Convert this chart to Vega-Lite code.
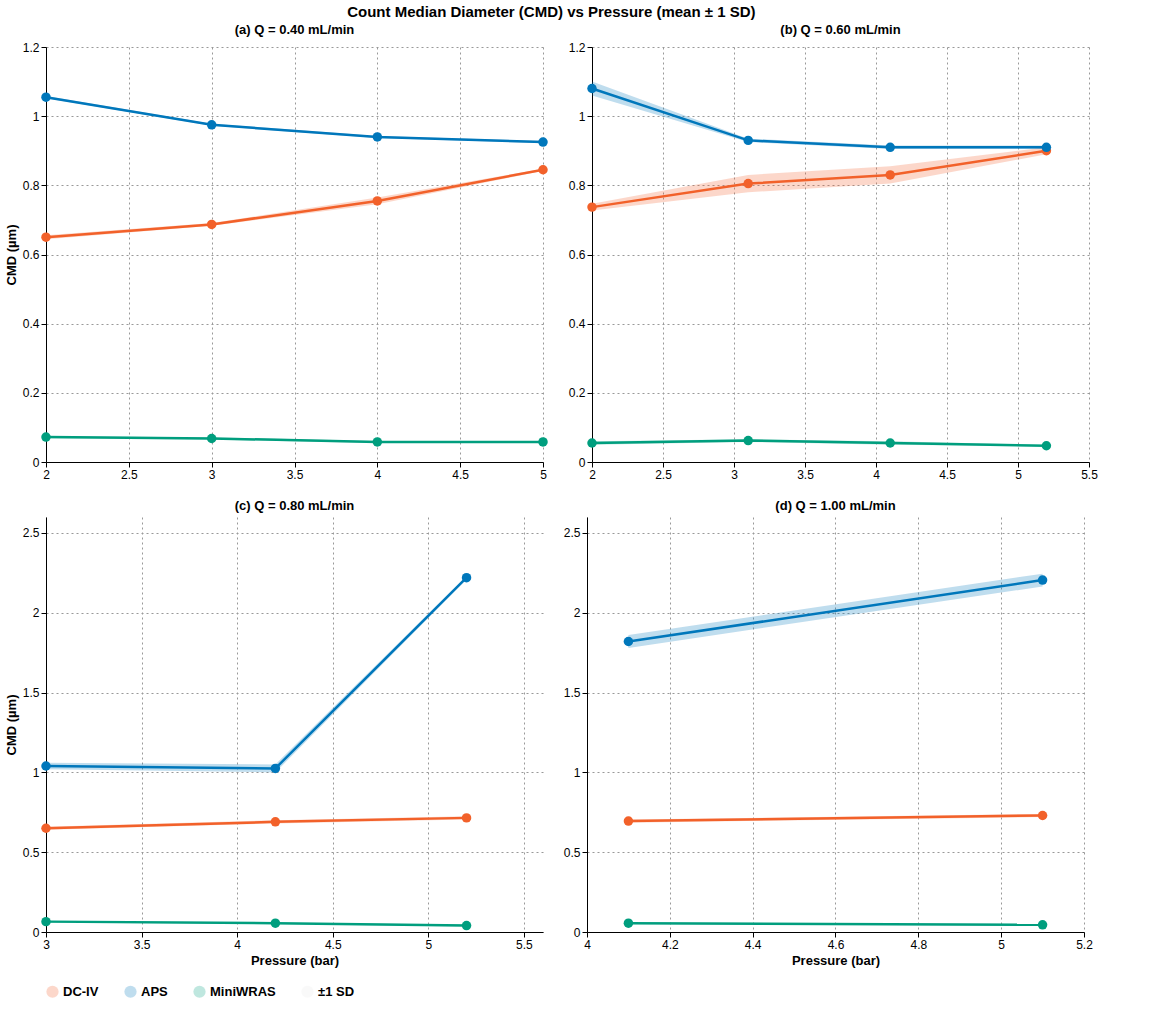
{
  "$schema": "https://vega.github.io/schema/vega-lite/v6.json",
  "title": {"text": "Count Median Diameter (CMD) vs Pressure  (mean ± 1 SD)", "fontSize": 15, "fontWeight": "bold", "font": "Liberation Sans", "anchor": "middle"},
  "config": {
    "font": "Liberation Sans",
    "view": {"stroke": null},
    "axis": {"grid": true, "gridDash": [2, 3], "gridColor": "#999", "domainColor": "#000", "tickColor": "#000", "labelColor": "#000", "labelFontSize": 12, "titleFontSize": 13, "titleFontWeight": "bold", "labelFlush": false},
    "title": {"fontSize": 13, "fontWeight": "bold"},
    "legend": {"orient": "bottom", "direction": "horizontal", "labelFontSize": 13, "labelFontWeight": "bold", "title": null, "columnPadding": 25}
  },
  "data": {"values": [
    {"panel": "a", "series": "DC-IV", "p": 2, "cmd": 0.65, "lo": 0.644, "hi": 0.656},
    {"panel": "a", "series": "DC-IV", "p": 3, "cmd": 0.687, "lo": 0.683, "hi": 0.691},
    {"panel": "a", "series": "DC-IV", "p": 4, "cmd": 0.755, "lo": 0.745, "hi": 0.765},
    {"panel": "a", "series": "DC-IV", "p": 5, "cmd": 0.845, "lo": 0.842, "hi": 0.848},
    {"panel": "a", "series": "APS", "p": 2, "cmd": 1.055, "lo": 1.052, "hi": 1.058},
    {"panel": "a", "series": "APS", "p": 3, "cmd": 0.975, "lo": 0.972, "hi": 0.978},
    {"panel": "a", "series": "APS", "p": 4, "cmd": 0.94, "lo": 0.937, "hi": 0.943},
    {"panel": "a", "series": "APS", "p": 5, "cmd": 0.925, "lo": 0.922, "hi": 0.928},
    {"panel": "a", "series": "MiniWRAS", "p": 2, "cmd": 0.072, "lo": 0.069, "hi": 0.075},
    {"panel": "a", "series": "MiniWRAS", "p": 3, "cmd": 0.068, "lo": 0.065, "hi": 0.071},
    {"panel": "a", "series": "MiniWRAS", "p": 4, "cmd": 0.058, "lo": 0.055, "hi": 0.061},
    {"panel": "a", "series": "MiniWRAS", "p": 5, "cmd": 0.058, "lo": 0.056, "hi": 0.06},
    {"panel": "b", "series": "DC-IV", "p": 2, "cmd": 0.737, "lo": 0.727, "hi": 0.747},
    {"panel": "b", "series": "DC-IV", "p": 3.1, "cmd": 0.805, "lo": 0.78, "hi": 0.83},
    {"panel": "b", "series": "DC-IV", "p": 4.1, "cmd": 0.83, "lo": 0.805, "hi": 0.855},
    {"panel": "b", "series": "DC-IV", "p": 5.2, "cmd": 0.9, "lo": 0.89, "hi": 0.91},
    {"panel": "b", "series": "APS", "p": 2, "cmd": 1.08, "lo": 1.06, "hi": 1.1},
    {"panel": "b", "series": "APS", "p": 3.1, "cmd": 0.93, "lo": 0.925, "hi": 0.935},
    {"panel": "b", "series": "APS", "p": 4.1, "cmd": 0.91, "lo": 0.905, "hi": 0.915},
    {"panel": "b", "series": "APS", "p": 5.2, "cmd": 0.91, "lo": 0.905, "hi": 0.915},
    {"panel": "b", "series": "MiniWRAS", "p": 2, "cmd": 0.055, "lo": 0.05, "hi": 0.06},
    {"panel": "b", "series": "MiniWRAS", "p": 3.1, "cmd": 0.062, "lo": 0.058, "hi": 0.066},
    {"panel": "b", "series": "MiniWRAS", "p": 4.1, "cmd": 0.055, "lo": 0.05, "hi": 0.06},
    {"panel": "b", "series": "MiniWRAS", "p": 5.2, "cmd": 0.047, "lo": 0.045, "hi": 0.049},
    {"panel": "c", "series": "DC-IV", "p": 3, "cmd": 0.65, "lo": 0.64, "hi": 0.66},
    {"panel": "c", "series": "DC-IV", "p": 4.2, "cmd": 0.69, "lo": 0.68, "hi": 0.7},
    {"panel": "c", "series": "DC-IV", "p": 5.2, "cmd": 0.715, "lo": 0.705, "hi": 0.725},
    {"panel": "c", "series": "APS", "p": 3, "cmd": 1.04, "lo": 1.02, "hi": 1.06},
    {"panel": "c", "series": "APS", "p": 4.2, "cmd": 1.025, "lo": 1.0, "hi": 1.05},
    {"panel": "c", "series": "APS", "p": 5.2, "cmd": 2.22, "lo": 2.21, "hi": 2.23},
    {"panel": "c", "series": "MiniWRAS", "p": 3, "cmd": 0.065, "lo": 0.06, "hi": 0.07},
    {"panel": "c", "series": "MiniWRAS", "p": 4.2, "cmd": 0.055, "lo": 0.05, "hi": 0.06},
    {"panel": "c", "series": "MiniWRAS", "p": 5.2, "cmd": 0.04, "lo": 0.035, "hi": 0.045},
    {"panel": "d", "series": "DC-IV", "p": 4.1, "cmd": 0.695, "lo": 0.685, "hi": 0.705},
    {"panel": "d", "series": "DC-IV", "p": 5.1, "cmd": 0.73, "lo": 0.72, "hi": 0.74},
    {"panel": "d", "series": "APS", "p": 4.1, "cmd": 1.82, "lo": 1.78, "hi": 1.86},
    {"panel": "d", "series": "APS", "p": 5.1, "cmd": 2.205, "lo": 2.165, "hi": 2.245},
    {"panel": "d", "series": "MiniWRAS", "p": 4.1, "cmd": 0.055, "lo": 0.05, "hi": 0.06},
    {"panel": "d", "series": "MiniWRAS", "p": 5.1, "cmd": 0.045, "lo": 0.04, "hi": 0.05}
  ]},
  "resolve": {"scale": {"x": "independent", "y": "independent"}},
  "vconcat": [
    {"resolve": {"scale": {"x": "independent", "y": "independent"}}, "hconcat": [
      {"width": 497, "height": 415, "title": "(a) Q = 0.40 mL/min", "transform": [{"filter": "datum.panel === 'a'"}],
       "layer": [
        {"mark": {"type": "area", "opacity": 0.25}, "encoding": {
          "x": {"field": "p", "type": "quantitative", "scale": {"domain": [2, 5]}, "axis": {"title": null, "format": "~g", "values": [2, 2.5, 3, 3.5, 4, 4.5, 5]}},
          "y": {"field": "lo", "type": "quantitative", "scale": {"domain": [0, 1.2]}, "axis": {"title": "CMD (µm)", "format": "~g", "values": [0, 0.2, 0.4, 0.6, 0.8, 1, 1.2]}},
          "y2": {"field": "hi"},
          "color": {"field": "series", "type": "nominal"}}},
        {"mark": {"type": "line", "strokeWidth": 2.5, "point": {"size": 90, "filled": true, "opacity": 1}}, "encoding": {
          "x": {"field": "p", "type": "quantitative"},
          "y": {"field": "cmd", "type": "quantitative"},
          "color": {"field": "series", "type": "nominal", "scale": {"domain": ["DC-IV", "APS", "MiniWRAS", "±1 SD"], "range": ["#F2612A", "#0077BB", "#009E7E", "#e6e6e6"]}, "legend": {"symbolType": "circle", "symbolSize": 150, "symbolStrokeWidth": 0}}}}
      ]},
      {"width": 497, "height": 415, "title": "(b) Q = 0.60 mL/min", "transform": [{"filter": "datum.panel === 'b'"}],
       "layer": [
        {"mark": {"type": "area", "opacity": 0.25}, "encoding": {
          "x": {"field": "p", "type": "quantitative", "scale": {"domain": [2, 5.5]}, "axis": {"title": null, "format": "~g", "values": [2, 2.5, 3, 3.5, 4, 4.5, 5, 5.5]}},
          "y": {"field": "lo", "type": "quantitative", "scale": {"domain": [0, 1.2]}, "axis": {"title": null, "format": "~g", "values": [0, 0.2, 0.4, 0.6, 0.8, 1, 1.2]}},
          "y2": {"field": "hi"},
          "color": {"field": "series", "type": "nominal"}}},
        {"mark": {"type": "line", "strokeWidth": 2.5, "point": {"size": 90, "filled": true, "opacity": 1}}, "encoding": {
          "x": {"field": "p", "type": "quantitative"},
          "y": {"field": "cmd", "type": "quantitative"},
          "color": {"field": "series", "type": "nominal"}}}
      ]}
    ]},
    {"resolve": {"scale": {"x": "independent", "y": "independent"}}, "hconcat": [
      {"width": 497, "height": 415, "title": "(c) Q = 0.80 mL/min", "transform": [{"filter": "datum.panel === 'c'"}],
       "layer": [
        {"mark": {"type": "area", "opacity": 0.25}, "encoding": {
          "x": {"field": "p", "type": "quantitative", "scale": {"domain": [3, 5.5]}, "axis": {"title": "Pressure (bar)", "format": "~g", "values": [3, 3.5, 4, 4.5, 5, 5.5]}},
          "y": {"field": "lo", "type": "quantitative", "scale": {"domain": [0, 2.5]}, "axis": {"title": "CMD (µm)", "format": "~g", "values": [0, 0.5, 1, 1.5, 2, 2.5]}},
          "y2": {"field": "hi"},
          "color": {"field": "series", "type": "nominal"}}},
        {"mark": {"type": "line", "strokeWidth": 2.5, "point": {"size": 90, "filled": true, "opacity": 1}}, "encoding": {
          "x": {"field": "p", "type": "quantitative"},
          "y": {"field": "cmd", "type": "quantitative"},
          "color": {"field": "series", "type": "nominal"}}}
      ]},
      {"width": 497, "height": 415, "title": "(d) Q = 1.00 mL/min", "transform": [{"filter": "datum.panel === 'd'"}],
       "layer": [
        {"mark": {"type": "area", "opacity": 0.25}, "encoding": {
          "x": {"field": "p", "type": "quantitative", "scale": {"domain": [4, 5.2]}, "axis": {"title": "Pressure (bar)", "format": "~g", "values": [4, 4.2, 4.4, 4.6, 4.8, 5, 5.2]}},
          "y": {"field": "lo", "type": "quantitative", "scale": {"domain": [0, 2.5]}, "axis": {"title": null, "format": "~g", "values": [0, 0.5, 1, 1.5, 2, 2.5]}},
          "y2": {"field": "hi"},
          "color": {"field": "series", "type": "nominal"}}},
        {"mark": {"type": "line", "strokeWidth": 2.5, "point": {"size": 90, "filled": true, "opacity": 1}}, "encoding": {
          "x": {"field": "p", "type": "quantitative"},
          "y": {"field": "cmd", "type": "quantitative"},
          "color": {"field": "series", "type": "nominal"}}}
      ]}
    ]}
  ]
}
